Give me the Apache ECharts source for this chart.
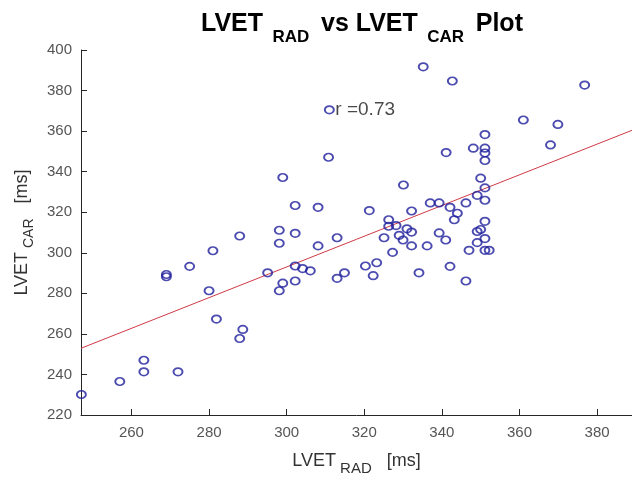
<!DOCTYPE html>
<html>
<head>
<meta charset="utf-8">
<script src="https://cdn.jsdelivr.net/npm/echarts@6/dist/echarts.min.js"></script>
<style>
  html, body { margin: 0; padding: 0; background: #fff; }
  #chart { width: 632px; height: 481px; }
</style>
</head>
<body>
<div id="chart"></div>
<script>
// LVET measured from the radial signal (ms)
const lvetRad = [
  335.2, 342.7, 376.8, 311.0, 361.0, 369.9, 351.1, 368.0, 348.1, 351.1,
  341.1, 351.1, 310.8, 351.1, 299.0, 330.1, 350.0, 351.1, 349.1, 351.1,
  346.2, 342.1, 344.0, 343.2, 337.0, 339.3, 351.1, 350.0, 349.1, 339.3,
  341.0, 351.1, 349.1, 347.0, 351.1, 352.2, 342.1, 346.2, 302.2, 308.1,
  321.3, 332.2, 326.3, 326.3, 328.2, 298.1, 302.2, 331.0, 332.2, 329.0,
  330.0, 325.1, 313.0, 298.1, 308.1, 332.2, 336.2, 327.3, 323.2, 320.3,
  322.3, 334.1, 295.1, 302.2, 304.1, 306.1, 314.9, 313.0, 299.0, 302.2,
  298.1, 287.9, 281.0, 275.0, 269.0, 269.0, 280.0, 281.9, 288.7, 287.9,
  263.2, 263.2, 272.0, 257.0, 247.1
];
// LVET measured from the carotid signal (ms)
const lvetCar = [
  391.7, 384.7, 382.7, 370.5, 365.5, 363.3, 358.3, 353.2, 351.6, 351.6,
  349.4, 349.2, 347.1, 345.5, 337.1, 333.4, 336.8, 332.0, 328.3, 325.9,
  324.6, 322.4, 319.5, 316.3, 324.6, 324.6, 315.5, 311.5, 310.5, 309.8,
  306.3, 307.0, 305.0, 301.2, 301.2, 301.2, 293.3, 286.1, 323.3, 322.4,
  320.8, 320.6, 316.3, 313.1, 313.4, 311.1, 309.6, 311.8, 310.2, 308.6,
  306.3, 307.4, 307.4, 304.7, 303.4, 303.4, 303.4, 300.2, 295.1, 293.5,
  288.7, 290.1, 290.1, 293.5, 292.2, 291.1, 290.1, 287.4, 285.0, 286.1,
  281.3, 308.3, 301.0, 293.3, 289.3, 288.2, 281.3, 267.3, 262.2, 257.7,
  247.0, 241.3, 241.3, 236.5, 230.1
];

// least-squares fit line, end points across the x range
const fitX = [247, 389];
const fitY = [252.9, 360.4];

// correlation annotation and where it sits
const rText = 'r =0.73';
const rAnchor = [311.0, 370.5];

// axis extents and tick values
const xRange = [247, 389];
const xTicks = [260, 280, 300, 320, 340, 360, 380];
const yRange = [220, 400];
const yStep = 20;

const points = lvetRad.map((x, i) => [x, lvetCar[i]]);
const fitPoints = fitX.map((x, i) => [x, fitY[i]]);

const FONT = '"Liberation Sans", Arial, Helvetica, sans-serif';
const AXIS_COLOR = '#262626';
const LABEL_COLOR = '#555';

const chart = echarts.init(document.getElementById('chart'), null, { renderer: 'canvas' });

chart.setOption({
  animation: false,
  backgroundColor: '#fff',
  title: {
    text: '{m|LVET}{s|  RAD }{m| vs LVET}{s|  CAR }{m| Plot}',
    left: 357,
    top: 7,
    textAlign: 'center',
    textStyle: {
      rich: {
        m: { fontFamily: FONT, fontWeight: 'bold', fontSize: 25, lineHeight: 25, color: '#000', verticalAlign: 'top' },
        s: { fontFamily: FONT, fontWeight: 'bold', fontSize: 17, lineHeight: 17, color: '#000', verticalAlign: 'top', padding: [17, 0, 0, 0] }
      }
    }
  },
  grid: { left: 81, right: 0, top: 50, bottom: 58, containLabel: false },
  xAxis: {
    type: 'value',
    min: xRange[0],
    max: xRange[1],
    name: '{m|LVET}{s| RAD}{m|   [ms]}',
    nameLocation: 'middle',
    nameGap: 37,
    nameTextStyle: {
      rich: {
        m: { fontFamily: FONT, fontSize: 18, lineHeight: 18, color: '#333', verticalAlign: 'top' },
        s: { fontFamily: FONT, fontSize: 15, lineHeight: 15, color: '#333', verticalAlign: 'top', padding: [9, 0, 0, 0] }
      }
    },
    axisLine: { show: true, onZero: false, lineStyle: { color: AXIS_COLOR, width: 1 } },
    axisTick: { show: true, inside: true, length: 6, customValues: xTicks, lineStyle: { color: AXIS_COLOR } },
    axisLabel: { customValues: xTicks, fontFamily: FONT, fontSize: 15, color: LABEL_COLOR, margin: 10 },
    splitLine: { show: false }
  },
  yAxis: {
    type: 'value',
    min: yRange[0],
    max: yRange[1],
    interval: yStep,
    name: '{m|LVET}{s| CAR}{m|   [ms]}',
    nameLocation: 'middle',
    nameRotate: 90,
    nameGap: 50,
    nameTextStyle: {
      rich: {
        m: { fontFamily: FONT, fontSize: 18, lineHeight: 18, color: '#333', verticalAlign: 'top' },
        s: { fontFamily: FONT, fontSize: 14, lineHeight: 14, color: '#333', verticalAlign: 'top', padding: [9, 0, 0, 0] }
      }
    },
    axisLine: { show: true, onZero: false, lineStyle: { color: AXIS_COLOR, width: 1 } },
    axisTick: { show: true, inside: true, length: 6, lineStyle: { color: AXIS_COLOR } },
    axisLabel: { fontFamily: FONT, fontSize: 15, color: LABEL_COLOR, margin: 9 },
    splitLine: { show: false }
  },
  series: [
    {
      name: 'fit',
      type: 'line',
      data: fitPoints,
      symbol: 'none',
      lineStyle: { color: '#cf3a44', width: 1 },
      z: 2
    },
    {
      name: 'LVET',
      type: 'scatter',
      data: points,
      symbol: 'circle',
      symbolSize: [9, 7.5],
      itemStyle: { color: 'rgba(0,0,0,0)', borderColor: '#1f1f9c', borderWidth: 1.8 },
      z: 3
    },
    {
      name: 'r',
      type: 'scatter',
      data: [rAnchor],
      symbol: 'circle',
      symbolSize: 2,
      itemStyle: { color: 'rgba(0,0,0,0)', borderWidth: 0 },
      label: {
        show: true,
        position: 'right',
        distance: 5,
        formatter: rText,
        fontFamily: FONT,
        fontSize: 19,
        color: '#1a1a1a'
      },
      z: 4
    }
  ]
});
</script>
</body>
</html>
